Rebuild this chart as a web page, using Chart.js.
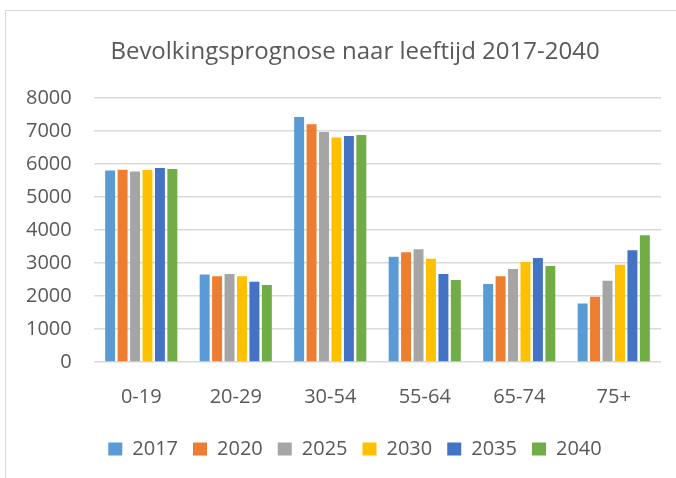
<!DOCTYPE html>
<html>
<head>
<meta charset="utf-8">
<script src="https://cdn.jsdelivr.net/npm/chart.js@4"></script>
<style>
    html, body { margin: 0; padding: 0; background: #fff; overflow: hidden; }
    #frame {
        position: absolute; left: 5px; top: 10px; width: 700px; height: 500px;
        border: 1.5px solid #d9d9d9; box-sizing: border-box;
    }
    #wrap { position: absolute; left: 0; top: 0; width: 676px; height: 478px; }
</style>
</head>
<body>
<div id="frame"></div>
<div id="wrap"><canvas id="chart" width="676" height="478"></canvas></div>
<script>
    // Leeftijdsgroepen en prognose per jaar
    const categories = ['0-19', '20-29', '30-54', '55-64', '65-74', '75+'];
    const years = ['2017', '2020', '2025', '2030', '2035', '2040'];
    const colors = ['#5B9BD5', '#ED7D31', '#A5A5A5', '#FFC000', '#4472C4', '#70AD47'];

    const values2017 = [5800, 2650, 7420, 3190, 2360, 1775];
    const values2020 = [5820, 2600, 7200, 3320, 2600, 1975];
    const values2025 = [5770, 2665, 6965, 3415, 2815, 2460];
    const values2030 = [5810, 2600, 6795, 3130, 3030, 2945];
    const values2035 = [5875, 2430, 6845, 2665, 3150, 3385];
    const values2040 = [5845, 2330, 6875, 2480, 2905, 3840];

    const yTicks = [0, 1000, 2000, 3000, 4000, 5000, 6000, 7000, 8000];

    const series = [values2017, values2020, values2025, values2030, values2035, values2040];
    const textColor = '#595959';
    const font = 'Open Sans, Lato, sans-serif';

    new Chart(document.getElementById('chart'), {
        type: 'bar',
        data: {
            labels: categories,
            datasets: series.map((data, i) => ({
                label: years[i],
                data: data,
                backgroundColor: colors[i],
                borderWidth: 0,
                categoryPercentage: 0.79,
                barPercentage: 0.8
            }))
        },
        options: {
            responsive: false,
            animation: false,
            layout: { padding: { left: 49, right: 15, top: 38, bottom: 9 } },
            plugins: {
                title: {
                    display: true,
                    text: 'Bevolkingsprognose naar leeftijd 2017-2040',
                    color: textColor,
                    font: { family: font, size: 24, weight: 'normal' },
                    padding: { top: 0, bottom: 31 }
                },
                legend: {
                    position: 'bottom',
                    labels: {
                        color: textColor,
                        font: { family: font, size: 20 },
                        boxWidth: 14,
                        boxHeight: 13,
                        padding: 15
                    }
                },
                tooltip: { enabled: false }
            },
            scales: {
                x: {
                    grid: { display: false },
                    border: { display: false },
                    ticks: { color: textColor, font: { family: font, size: 20 }, padding: 15 }
                },
                y: {
                    min: 0,
                    max: 8000,
                    afterBuildTicks: (axis) => { axis.ticks = yTicks.map(v => ({ value: v })); },
                    afterFit: (axis) => { axis.width = 45; },
                    grid: { color: '#d9d9d9', lineWidth: 1.5, drawTicks: false },
                    border: { display: false },
                    ticks: {
                        color: textColor,
                        font: { family: font, size: 20 },
                        // mirrored labels are not clipped to the narrow axis box
                        mirror: true,
                        crossAlign: 'far',
                        padding: -68,
                        callback: (v) => String(v)
                    }
                }
            }
        }
    });
</script>
</body>
</html>
